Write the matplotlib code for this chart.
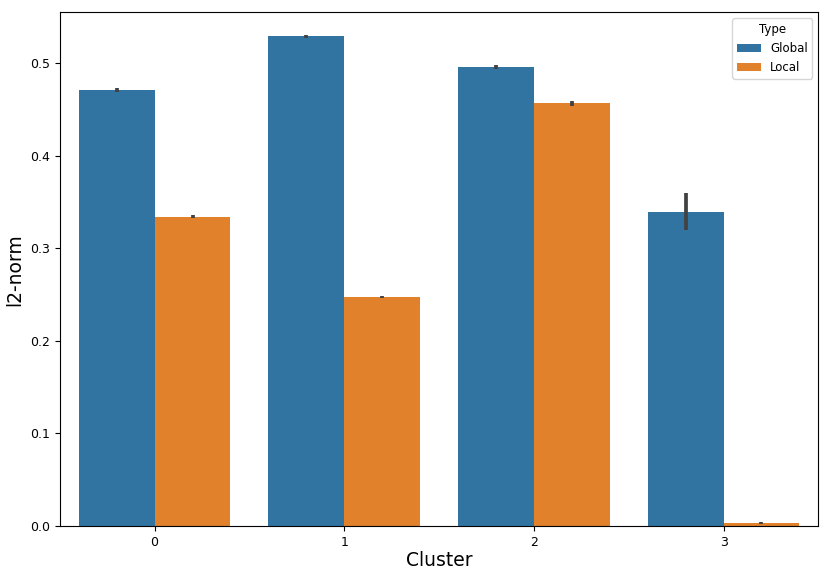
import matplotlib
matplotlib.use('Agg')
import matplotlib.pyplot as plt
import numpy as np

clusters = ['0', '1', '2', '3']
types = ['Global', 'Local']
global_means = [0.4708, 0.5290, 0.4957, 0.3398]
global_err = [0.0020, 0.0012, 0.0020, 0.0200]
local_means = [0.3344, 0.2478, 0.4567, 0.0035]
local_err = [0.0020, 0.0012, 0.0030, 0.0010]

colors = ['#3274a1', '#e1812c']

fig = plt.figure(figsize=(8.3, 5.81), dpi=100)
ax = fig.add_axes([0.072, 0.0947, 0.914, 0.884])

x = np.arange(len(clusters))
w = 0.4
for i, (means, errs) in enumerate([(global_means, global_err), (local_means, local_err)]):
    pos = x - w / 2 + i * w
    ax.bar(pos, means, width=w, color=colors[i], label=types[i])
    ax.errorbar(pos, means, yerr=errs, fmt='none', ecolor='#424242', elinewidth=2.7, capsize=0)

ax.set_xticks(x)
ax.set_xticklabels(clusters)
ax.set_xlim(-0.5, 3.5)
ax.set_ylim(0, 0.555)
ax.tick_params(labelsize=9)
ax.set_xlabel('Cluster', fontsize=13.5, labelpad=2)
ax.set_ylabel('l2-norm', fontsize=13.5)
ax.legend(title='Type', fontsize=8.5, title_fontsize=8.5, loc='upper right')

fig.savefig('out.png', dpi=100)
